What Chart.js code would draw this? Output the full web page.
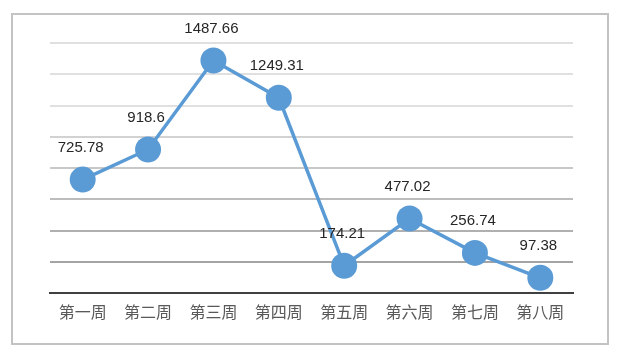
<!DOCTYPE html>
<html>
<head>
<meta charset="utf-8">
<script src="https://cdn.jsdelivr.net/npm/chart.js@4"></script>
<style>
  html, body { margin: 0; padding: 0; background: #fff; }
  #wrap { position: relative; width: 630px; height: 352px; }
  #frame {
    position: absolute; left: 11px; top: 13px; width: 594px; height: 328px;
    border: 2px solid #c3c3c3; pointer-events: none;
  }
</style>
</head>
<body>
<div id="wrap">
  <canvas id="chart" width="630" height="352"></canvas>
  <div id="frame"></div>
</div>
<script>
const weeks = ['第一周', '第二周', '第三周', '第四周', '第五周', '第六周', '第七周', '第八周'];
const values = [725.78, 918.6, 1487.66, 1249.31, 174.21, 477.02, 256.74, 97.38];
const labelsText = ['725.78', '918.6', '1487.66', '1249.31', '174.21', '477.02', '256.74', '97.38'];

// grid shade goes from light at the top to darker near the axis
const gridShade = (v) => {
  if (v >= 1200) return '#e0e0e0';
  if (v >= 1000) return '#d2d2d2';
  if (v >= 800) return '#c8c8c8';
  if (v >= 600) return '#bcbcbc';
  if (v >= 400) return '#b0b0b0';
  return '#a4a4a4';
};

const valueLabels = {
  id: 'valueLabels',
  afterDatasetsDraw(chart) {
    const ctx = chart.ctx;
    const meta = chart.getDatasetMeta(0);
    ctx.save();
    ctx.font = '15px "Liberation Sans", Arial, sans-serif';
    ctx.fillStyle = '#262626';
    ctx.textAlign = 'center';
    ctx.textBaseline = 'middle';
    meta.data.forEach((pt, i) => {
      ctx.fillText(labelsText[i], pt.x - 2, pt.y - 32);
    });
    ctx.restore();
  }
};

new Chart(document.getElementById('chart'), {
  type: 'line',
  data: {
    labels: weeks,
    datasets: [{
      data: values,
      borderColor: '#5b9bd5',
      backgroundColor: '#5b9bd5',
      borderWidth: 3.5,
      pointRadius: 13,
      pointBorderWidth: 0,
      pointBackgroundColor: '#5b9bd5',
      tension: 0
    }]
  },
  options: {
    responsive: false,
    animation: false,
    layout: { padding: { left: 50, right: 57, top: 43, bottom: 0 } },
    plugins: {
      legend: { display: false },
      tooltip: { enabled: false }
    },
    scales: {
      x: {
        offset: true,
        grid: { display: false, drawTicks: false, offset: true },
        border: { display: true, color: '#404040', width: 2 },
        ticks: {
          color: '#595959',
          font: { size: 16, family: '"Noto Sans CJK SC", sans-serif' },
          padding: 9
        },
        afterFit(scale) { scale.height = 59; }
      },
      y: {
        min: 0,
        max: 1600,
        ticks: { display: false, stepSize: 200 },
        border: { display: false },
        grid: {
          drawTicks: false,
          lineWidth: 2,
          color: (c) => c.tick && c.tick.value === 0 ? 'rgba(0,0,0,0)' : gridShade(c.tick ? c.tick.value : 0)
        },
        afterFit(scale) { scale.width = 0; }
      }
    }
  },
  plugins: [valueLabels]
});
</script>
</body>
</html>
